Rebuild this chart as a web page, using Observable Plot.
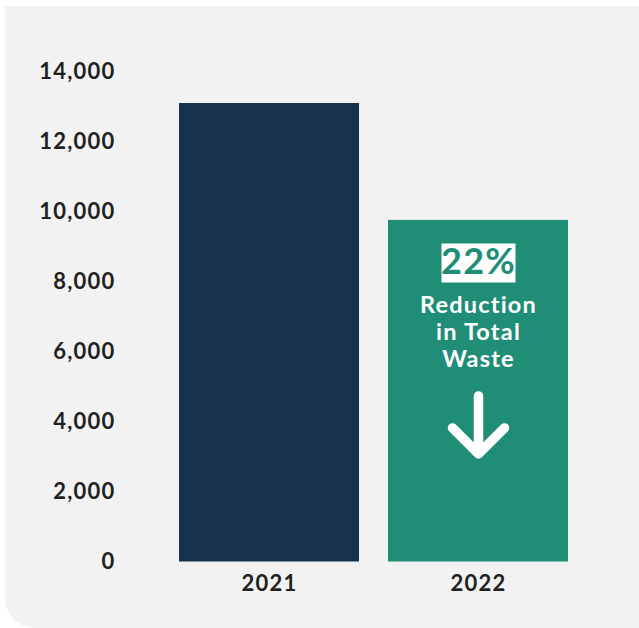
<!DOCTYPE html>
<html>
<head>
<meta charset="utf-8">
<script src="https://cdn.jsdelivr.net/npm/d3@7"></script>
<script src="https://cdn.jsdelivr.net/npm/@observablehq/plot@0.6"></script>
<style>
  html, body { margin: 0; padding: 0; background: #ffffff; }
  #panel {
    position: absolute; left: 5px; top: 6px; width: 634px; height: 622px;
    background: #f2f2f2; border-bottom-left-radius: 30px; overflow: hidden;
  }
  #panel svg { display: block; }
  #panel svg text { letter-spacing: 1.2px; }
</style>
</head>
<body>
<div id="panel"></div>
<script>
const years = ["2021", "2022"];
const totals = [13100, 9760];
const barColors = ["#17334b", "#208e77"];
const yTicks = [0, 2000, 4000, 6000, 8000, 10000, 12000, 14000];
const pctLabel = "22%";
const noteLabel = "Reduction\nin Total\nWaste";
const noteYear = "2022";

const data = years.map((y, i) => ({year: y, value: totals[i], color: barColors[i]}));
const noteData = data.filter(d => d.year === noteYear);

const font = "Lato, 'Open Sans', sans-serif";
const boxSymbol = { draw(ctx) { ctx.rect(-37, -19.5, 74, 39); } };
const arrowShape = {
  draw(ctx, l) {
    ctx.moveTo(0, 0); ctx.lineTo(0, -l);
    ctx.moveTo(-26, -l + 26); ctx.lineTo(0, -l); ctx.lineTo(26, -l + 26);
  }
};

const chart = Plot.plot({
  width: 634,
  height: 622,
  marginTop: 65.5,
  marginBottom: 66.5,
  marginLeft: 174,
  marginRight: 71,
  style: { background: "transparent", fontFamily: font },
  x: { domain: years, paddingInner: 0.139, paddingOuter: 0, label: null },
  y: { domain: [0, 14000], label: null },
  marks: [
    Plot.barY(data, { x: "year", y: "value", fill: "color" }),
    Plot.axisY({ ticks: yTicks, tickSize: 0, tickPadding: 64, tickFormat: d3.format(","),
      fontSize: 22, fontWeight: 700, fill: "#231f20", label: null }),
    Plot.axisX({ tickSize: 0, tickPadding: 13, fontSize: 22, fontWeight: 700, fill: "#231f20", label: null }),
    Plot.dot(noteData, { x: "year", y: "value", symbol: boxSymbol, fill: "#ffffff", stroke: null, dy: 42.5 }),
    Plot.text(noteData, { x: "year", y: "value", text: () => pctLabel, fill: "#208e77",
      fontSize: 36, fontWeight: 700, lineAnchor: "middle", dy: 42.5 }),
    Plot.text(noteData, { x: "year", y: "value", text: () => noteLabel, fill: "#ffffff",
      fontSize: 23.5, fontWeight: 700, lineAnchor: "top", lineHeight: 1.15, dy: 73 }),
    Plot.vector(noteData, { x: "year", y: "value", length: 58, rotate: 180, anchor: "start",
      shape: arrowShape, stroke: "#ffffff", strokeWidth: 9.5, strokeLinecap: "round",
      strokeLinejoin: "round", dy: 175.5 })
  ]
});
document.getElementById("panel").appendChild(chart);
</script>
</body>
</html>
